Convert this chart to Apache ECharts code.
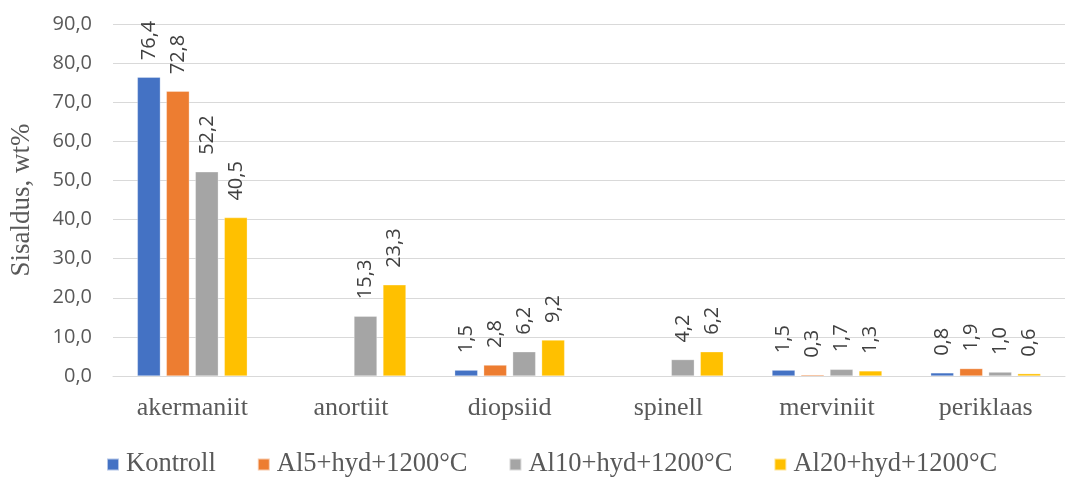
<!DOCTYPE html>
<html>
<head>
<meta charset="utf-8">
<script src="https://cdn.jsdelivr.net/npm/echarts@6/dist/echarts.min.js"></script>
<style>html,body{margin:0;padding:0;background:#fff;}#c{width:1068px;height:477px;}</style>
</head>
<body>
<div id="c"></div>
<script>
const categories = ['akermaniit', 'anortiit', 'diopsiid', 'spinell', 'merviniit', 'periklaas'];
const seriesNames = ['Kontroll', 'Al5+hyd+1200°C', 'Al10+hyd+1200°C', 'Al20+hyd+1200°C'];
const kontroll = [76.4, null, 1.5, null, 1.5, 0.8];
const al5 = [72.8, null, 2.8, null, 0.3, 1.9];
const al10 = [52.2, 15.3, 6.2, 4.2, 1.7, 1.0];
const al20 = [40.5, 23.3, 9.2, 6.2, 1.3, 0.6];
const colors = ['#4472C4', '#ED7D31', '#A5A5A5', '#FFC000'];
const yTicks = { min: 0, max: 90, interval: 10 };

const fmt = v => v.toFixed(1).replace('.', ',');
const seriesData = [kontroll, al5, al10, al20];

const chart = echarts.init(document.getElementById('c'), null, { renderer: 'canvas' });
chart.setOption({
  animation: false,
  color: colors,
  grid: { left: 107, right: 3, top: 24, bottom: 101, containLabel: false },
  legend: {
    left: 101, top: 446,
    itemWidth: 12, itemHeight: 12, itemGap: 41,
    icon: 'rect',
    textStyle: { fontFamily: 'Liberation Serif', fontSize: 26.5, color: '#595959', padding: [0, 0, 0, 2] },
    data: seriesNames
  },
  xAxis: {
    type: 'category',
    data: categories,
    axisLine: { lineStyle: { color: '#D9D9D9', width: 1 } },
    axisTick: { show: false },
    axisLabel: { fontFamily: 'Liberation Serif', fontSize: 26, color: '#595959', margin: 19 }
  },
  yAxis: {
    type: 'value',
    min: yTicks.min, max: yTicks.max, interval: yTicks.interval,
    name: 'Sisaldus, wt%',
    nameLocation: 'middle',
    nameGap: 78,
    nameTextStyle: { fontFamily: 'Liberation Serif', fontSize: 27, color: '#595959' },
    axisLine: { show: false },
    axisTick: { show: false },
    splitLine: { lineStyle: { color: '#D9D9D9', width: 1 } },
    axisLabel: { fontFamily: 'Open Sans', fontSize: 20, color: '#595959', margin: 21, formatter: v => fmt(v) }
  },
  series: seriesNames.map((n, i) => ({
    name: n,
    type: 'bar',
    data: seriesData[i],
    barWidth: 23,
    barGap: '26%',
    itemStyle: { color: colors[i], borderColor: 'rgba(255,255,255,0.6)', borderWidth: 0.5 },
    label: {
      show: true,
      position: 'top',
      rotate: 90,
      align: 'left',
      verticalAlign: 'middle',
      distance: 17,
      fontFamily: 'Open Sans',
      fontSize: 20,
      color: '#404040',
      formatter: p => (p.value == null ? '' : fmt(p.value))
    }
  }))
});
</script>
</body>
</html>
